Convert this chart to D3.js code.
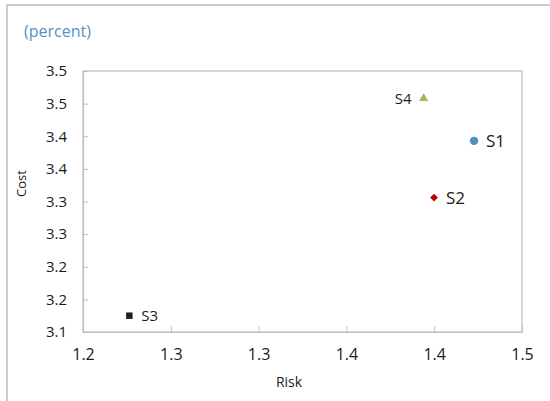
<!DOCTYPE html>
<html>
<head>
<meta charset="utf-8">
<script src="https://cdn.jsdelivr.net/npm/d3@7"></script>
<style>
  html, body { margin: 0; padding: 0; background: #fff; }
  svg { display: block; font-family: "Open Sans", "Noto Sans", sans-serif; }
</style>
</head>
<body>
<svg id="chart" width="550" height="401"></svg>
<script>
// ---- Data ----
const seriesNames = ["S1", "S2", "S3", "S4"];
const riskValues  = [1.4227, 1.3999, 1.2264, 1.394];
const costValues  = [3.393, 3.306, 3.125, 3.458];
const markerShapes = ["circle", "diamond", "square", "triangle"];
const markerColors = ["#4f8fbb", "#c00000", "#1f1f1f", "#9bbb59"];

const xTickValues = [1.20, 1.25, 1.30, 1.35, 1.40, 1.45];
const xTickLabels = ["1.2", "1.3", "1.3", "1.4", "1.4", "1.5"];
const yTickValues = [3.10, 3.15, 3.20, 3.25, 3.30, 3.35, 3.40, 3.45, 3.50];
const yTickLabels = ["3.1", "3.2", "3.2", "3.3", "3.3", "3.4", "3.4", "3.5", "3.5"];

const unitLabel = "(percent)";
const xTitle = "Risk";
const yTitle = "Cost";

// ---- Layout ----
const svg = d3.select("#chart");
const plot = { left: 83, top: 71, right: 522, bottom: 332 };
const axisColor = "#bfbfbf";
const textColor = "#1a1a1a";

// outer frame (clipped by window)
svg.append("rect")
  .attr("x", 7).attr("y", 5)
  .attr("width", 600).attr("height", 450)
  .attr("fill", "none").attr("stroke", "#cccccc").attr("stroke-width", 2);

const x = d3.scaleLinear().domain([xTickValues[0], xTickValues[xTickValues.length - 1]])
  .range([plot.left, plot.right]);
const y = d3.scaleLinear().domain([yTickValues[0], yTickValues[yTickValues.length - 1]])
  .range([plot.bottom, plot.top]);

// plot area border
svg.append("rect")
  .attr("x", plot.left).attr("y", plot.top)
  .attr("width", plot.right - plot.left).attr("height", plot.bottom - plot.top)
  .attr("fill", "none").attr("stroke", axisColor).attr("stroke-width", 1.2);

// x axis (inner ticks)
const xAxis = d3.axisBottom(x)
  .tickValues(xTickValues)
  .tickSizeInner(-6).tickSizeOuter(0)
  .tickPadding(17)
  .tickFormat((d, i) => xTickLabels[i]);
const gx = svg.append("g").attr("transform", `translate(0,${plot.bottom})`).call(xAxis);
gx.select(".domain").attr("stroke", axisColor).attr("stroke-width", 1.2);
gx.selectAll(".tick line").attr("stroke", axisColor);
gx.selectAll(".tick text").attr("fill", textColor).style("font-size", "16px")
  .style("font-family", "'Open Sans', sans-serif");

// y axis (inner ticks)
const yAxis = d3.axisLeft(y)
  .tickValues(yTickValues)
  .tickSizeInner(-5).tickSizeOuter(0)
  .tickPadding(16)
  .tickFormat((d, i) => yTickLabels[i]);
const gy = svg.append("g").attr("transform", `translate(${plot.left},0)`).call(yAxis);
gy.select(".domain").attr("stroke", axisColor).attr("stroke-width", 1.2);
gy.selectAll(".tick line").attr("stroke", axisColor);
gy.selectAll(".tick text").attr("fill", textColor).style("font-size", "15px")
  .style("font-family", "'Open Sans', sans-serif");

// titles
svg.append("text").attr("x", 24).attr("y", 37)
  .attr("fill", "#5a8fc6").style("font-size", "16px").text(unitLabel);

svg.append("text")
  .attr("transform", `translate(26,${(plot.top + plot.bottom) / 2 - 18}) rotate(-90)`)
  .attr("text-anchor", "middle").attr("fill", textColor).style("font-size", "13px")
  .text(yTitle);

svg.append("text").attr("x", 289).attr("y", 387)
  .attr("text-anchor", "middle").attr("fill", textColor).style("font-size", "14px")
  .text(xTitle);

// markers
const symbolFor = {
  circle: d3.symbolCircle,
  diamond: d3.symbolSquare,
  square: d3.symbolSquare,
  triangle: d3.symbolTriangle
};
const sizeFor = { circle: 55, diamond: 30, square: 42, triangle: 36 };
const rotateFor = { circle: 0, diamond: 45, square: 0, triangle: 0 };
const labelSize = { S1: 17, S2: 17, S3: 15, S4: 15 };

const pts = seriesNames.map((n, i) => ({
  name: n, rx: riskValues[i], cy: costValues[i], shape: markerShapes[i], color: markerColors[i]
}));

const g = svg.append("g");
g.selectAll("path.pt").data(pts).join("path")
  .attr("class", "pt")
  .attr("transform", d => `translate(${x(d.rx)},${y(d.cy)}) rotate(${rotateFor[d.shape]})`)
  .attr("d", d => d3.symbol().type(symbolFor[d.shape]).size(sizeFor[d.shape])())
  .attr("fill", d => d.color);

g.selectAll("text.lbl").data(pts).join("text")
  .attr("class", "lbl")
  .attr("x", d => d.name === "S4" ? x(d.rx) - 12 : x(d.rx) + 12)
  .attr("y", d => y(d.cy))
  .attr("dy", "0.36em")
  .attr("text-anchor", d => d.name === "S4" ? "end" : "start")
  .attr("fill", textColor)
  .style("font-size", d => labelSize[d.name] + "px")
  .text(d => d.name);
</script>
</body>
</html>
